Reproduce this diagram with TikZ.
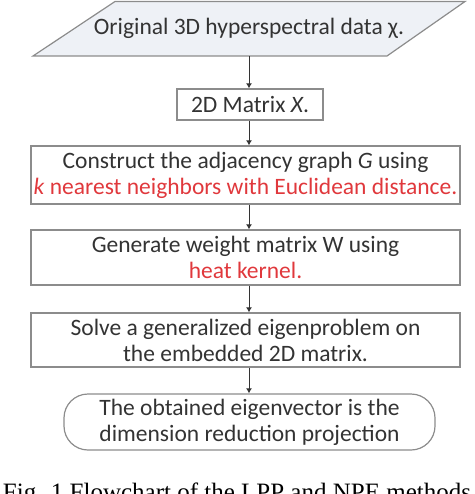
\documentclass[tikz,border=0pt]{standalone}
\usepackage{fontspec}
\setmainfont{Carlito}
\newfontfamily\capfont{Liberation Serif}
\usetikzlibrary{arrows.meta, positioning}
\usepackage{xcolor}
\definecolor{boxgray}{HTML}{8C8C8C}
\definecolor{txtgray}{HTML}{333333}
\definecolor{kred}{HTML}{E0383C}
\definecolor{datafill}{HTML}{EEF1F6}

\begin{document}
\begin{tikzpicture}[x=1pt, y=-1pt, >={Latex[length=5pt, width=6pt]}]
				\tikzstyle{box} = [draw=boxgray, line width=1.2pt, rectangle, align=center, text=txtgray, font=\fontsize{23.5}{26}\selectfont, inner sep=0pt]
				\tikzstyle{term} = [box, rounded corners=24pt]
				\tikzstyle{invis} = [draw=none, align=center, text=txtgray, font=\fontsize{23.5}{26}\selectfont, inner sep=0pt]
				\tikzstyle{flow} = [->, draw=txtgray, line width=1pt]
				
				\useasboundingbox (0,0) rectangle (474,494);
				
				\draw[boxgray, line width=1.2pt, fill=datafill] (33,56) -- (387,56) -- (465,1.5) -- (115,1.5) -- cycle;
				\node[invis, minimum height=55pt]	at (249, 28.5)	(s0)	{Original 3D hyperspectral data χ.};
				\node[box, minimum width=146pt, minimum height=31pt]	at (250, 104.5)	(s1)	{2D Matrix \textit{X}.};
				\node[box, minimum width=429pt, minimum height=58pt]	at (245.5, 175)	(s2)	{Construct the adjacency graph \textit{G} using\\ \textcolor{kred}{\textit{k} nearest neighbors with Euclidean distance.}};
				\node[box, minimum width=429pt, minimum height=55pt]	at (245.5, 257.5)	(s3)	{Generate weight matrix W using\\ \textcolor{kred}{heat kernel.}};
				\node[box, minimum width=429pt, minimum height=54pt]	at (245.5, 340)	(s4)	{Solve a generalized eigenproblem on\\ the embedded 2D matrix.};
				\node[term, minimum width=371pt, minimum height=56pt]	at (249.5, 422)	(s5)	{The obtained eigenvector is the\\ dimension reduction projection};
				\node[anchor=base, font=\capfont\fontsize{25}{28}\selectfont]	at (237, 500)	(cap)	{Fig. 1 Flowchart of the LPP and NPE methods};
				
				\draw[flow] (s0.south) -- (s0.south |- s1.north);
				\draw[flow] (s1.south -| s0.south) -- (s0.south |- s2.north);
				\draw[flow] (s2.south -| s0.south) -- (s0.south |- s3.north);
				\draw[flow] (s3.south -| s0.south) -- (s0.south |- s4.north);
				\draw[flow] (s4.south -| s0.south) -- (s0.south |- s5.north);
			\end{tikzpicture}
\end{document}
